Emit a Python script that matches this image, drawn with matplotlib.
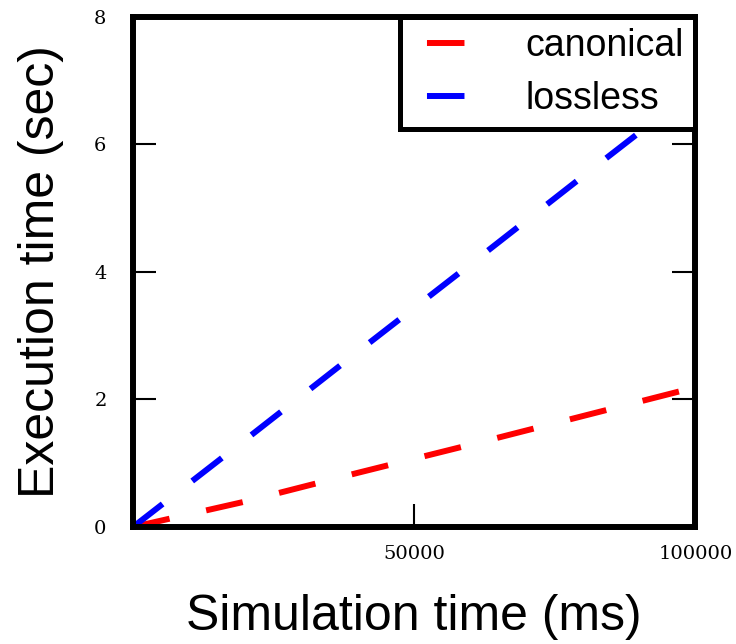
import matplotlib
matplotlib.use("Agg")
import matplotlib.pyplot as plt

# Simulation time (ms) vs execution time (sec)
sim_time = [0, 20000, 40000, 60000, 80000, 100000]
canonical = [0, 0.40, 0.85, 1.29, 1.74, 2.19]
lossless = [0, 1.37, 2.75, 4.12, 5.50, 6.87]

x_ticks = [50000, 100000]
y_ticks = [0, 2, 4, 6, 8]

plt.rcParams["lines.scale_dashes"] = False

fig = plt.figure(figsize=(7.36, 6.44), dpi=100)
ax = fig.add_axes([0.1807, 0.1817, 0.764, 0.792])

ax.plot(sim_time, canonical, color="red", lw=4.3, dashes=(27, 27),
        dash_capstyle="butt", label="canonical")
ax.plot(sim_time, lossless, color="blue", lw=4.3, dashes=(27, 27),
        dash_capstyle="butt", label="lossless")

ax.set_xlim(0, 100000)
ax.set_ylim(0, 8)
ax.set_xticks(x_ticks)
ax.set_yticks(y_ticks)
ax.set_xticklabels([str(t) for t in x_ticks], family="DejaVu Serif", fontsize=14)
ax.set_yticklabels([str(t) for t in y_ticks], family="DejaVu Serif", fontsize=14)
ax.tick_params(direction="in", length=16.5, width=1.5, top=True, right=True)
ax.tick_params(axis="y", pad=19)
ax.tick_params(axis="x", pad=13)

for s in ax.spines.values():
    s.set_linewidth(4.3)

ax.set_xlabel("Simulation time (ms)", family="Liberation Sans", fontsize=36, labelpad=22)
ax.set_ylabel("Execution time (sec)", family="Liberation Sans", fontsize=36, labelpad=22)

leg = ax.legend(loc="upper right", bbox_to_anchor=(1, 1), borderaxespad=0,
                prop={"family": "Liberation Sans", "size": 27},
                handlelength=1.45, handletextpad=1.61, labelspacing=0.46,
                borderpad=0.3, fancybox=False, framealpha=1)
leg.get_frame().set_edgecolor("black")
leg.get_frame().set_linewidth(3.6)
# legend sample: short gap, then one dash
for ln in leg.get_lines():
    ln.set_linestyle((42.5, (27, 27)))

fig.savefig("out.png", dpi=100)
